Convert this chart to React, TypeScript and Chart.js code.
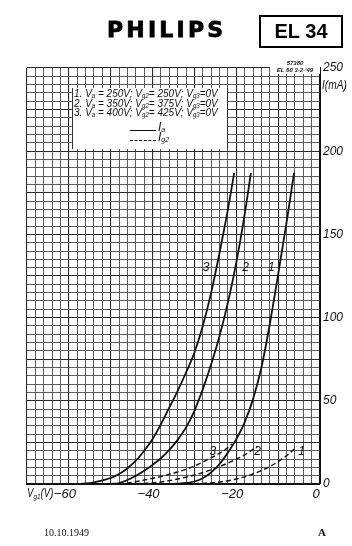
import React, { useEffect, useRef } from "react";
import { Chart, registerables } from "chart.js";

Chart.register(...registerables);

// ---- data (Vg1 in V, current in mA) ----
const ia1V = [-36, -34, -32, -30, -28, -26, -24, -22, -20, -18, -16, -14, -12, -10, -8, -6.2];
const ia1I = [0, 0.2, 0.6, 1.5, 3.5, 7, 12, 19, 27, 37, 51, 70, 96, 126, 157, 187];

const ia2V = [-50, -48, -46, -44, -42, -40, -38, -36, -34, -32, -30, -28, -26, -24, -22, -20, -18, -16.5];
const ia2I = [0, 0.6, 2.4, 5, 8, 11.5, 15.5, 20.5, 26.5, 34, 44, 57, 72, 89, 109, 133, 162, 187];

const ia3V = [-58, -56, -54, -52, -50, -48, -46, -44, -42, -40, -38, -36, -34, -32, -30, -28, -26, -24, -22, -20.5];
const ia3I = [0, 0.3, 1, 2.2, 3.6, 6, 9.5, 14, 20, 27, 36, 46, 56, 67, 79, 95, 115, 139, 165, 187];

const ig1V = [-32, -28, -24, -20, -16, -12, -8, -5.5];
const ig1I = [0, 0.4, 1.2, 3, 6, 10.5, 17, 22.5];

const ig2V = [-46, -42, -38, -34, -30, -26, -22, -18, -15];
const ig2I = [0, 0.4, 1.2, 3, 5.4, 8.5, 12.6, 17.5, 22.5];

const ig3V = [-50, -46, -42, -38, -34, -30, -26, -23, -21];
const ig3I = [0, 0.6, 2.4, 4.5, 7.2, 10.8, 15.8, 20, 24];

const xLabelValues = [-60, -40, -20, 0];
const yLabelValues = [0, 50, 100, 150, 200, 250];

const curveLabelText = ["3", "2", "1", "3", "2", "1"];
const curveLabelV = [-27.2, -17.8, -11.6, -25.6, -14.9, -4.4];
const curveLabelI = [130, 130, 130, 19.2, 19.2, 19.2];

const legendRows = [
  ["1.", "250", "250"],
  ["2.", "350", "375"],
  ["3.", "400", "425"],
];

const SANS = '"Liberation Sans", Arial, sans-serif';

function toPts(xs: number[], ys: number[]) {
  return xs.map((x, i) => ({ x, y: ys[i] }));
}

const labelPlugin = {
  id: "curveLabels",
  afterDatasetsDraw(chart: any) {
    const ctx = chart.ctx;
    const xs = chart.scales.x;
    const ys = chart.scales.y;
    ctx.save();
    ctx.font = `italic 12px ${SANS}`;
    ctx.textAlign = "center";
    ctx.textBaseline = "middle";
    ctx.fillStyle = "#111";
    curveLabelText.forEach((t, i) => {
      const px = xs.getPixelForValue(curveLabelV[i]);
      const py = ys.getPixelForValue(curveLabelI[i]);
      ctx.fillText(t, px, py);
    });
    ctx.restore();
  },
};

export default function App() {
  const ref = useRef<HTMLCanvasElement>(null);

  useEffect(() => {
    if (!ref.current) return;
    const solid = (pts: any) => ({
      data: pts,
      showLine: true,
      borderColor: "#111",
      borderWidth: 1.8,
      pointRadius: 0,
      cubicInterpolationMode: "monotone",
      fill: false,
    });
    const dashed = (pts: any) => ({
      data: pts,
      showLine: true,
      borderColor: "#111",
      borderWidth: 1.4,
      borderDash: [5, 3],
      pointRadius: 0,
      cubicInterpolationMode: "monotone",
      fill: false,
    });
    const chart = new Chart(ref.current, {
      type: "scatter",
      data: {
        datasets: [
          solid(toPts(ia1V, ia1I)),
          solid(toPts(ia2V, ia2I)),
          solid(toPts(ia3V, ia3I)),
          dashed(toPts(ig1V, ig1I)),
          dashed(toPts(ig2V, ig2I)),
          dashed(toPts(ig3V, ig3I)),
        ] as any,
      },
      options: {
        animation: false,
        responsive: false,
        layout: { padding: { left: 27, top: 68, right: 0, bottom: 32 } },
        plugins: { legend: { display: false }, tooltip: { enabled: false } },
        scales: {
          x: {
            type: "linear",
            min: -70,
            max: 0,
            afterFit: (s: any) => {
              s.height = 30;
            },
            border: { display: true, color: "#111", width: 2 },
            grid: {
              drawTicks: false,
              color: (c: any) => (c.tick && c.tick.value % 10 === 0 ? "#2a2a2a" : "#4a4a4a"),
              lineWidth: (c: any) => (c.tick && c.tick.value % 10 === 0 ? 1.1 : 0.9),
            },
            ticks: {
              stepSize: 2,
              autoSkip: false,
              maxRotation: 0,
              padding: 3,
              labelOffset: -4,
              color: "#111",
              font: { family: SANS, size: 13, style: "italic" },
              callback: (v: any) =>
                xLabelValues.includes(Number(v)) ? (Number(v) < 0 ? "\u2212" + Math.abs(Number(v)) : String(v)) : "",
            },
          },
          y: {
            type: "linear",
            position: "right",
            min: 0,
            max: 250,
            afterFit: (s: any) => {
              s.width = 32;
            },
            border: { display: true, color: "#111", width: 2 },
            grid: {
              drawTicks: false,
              color: (c: any) => (c.tick && c.tick.value % 25 === 0 ? "#2a2a2a" : "#4a4a4a"),
              lineWidth: (c: any) => (c.tick && c.tick.value % 25 === 0 ? 1.1 : 0.9),
            },
            ticks: {
              stepSize: 5,
              autoSkip: false,
              padding: 3,
              color: "#111",
              font: { family: SANS, size: 12, style: "italic" },
              callback: (v: any) => (yLabelValues.includes(Number(v)) ? String(v) : ""),
            },
          },
        },
      },
      plugins: [labelPlugin],
    });
    return () => chart.destroy();
  }, []);

  const it: React.CSSProperties = { fontFamily: SANS, fontStyle: "italic", color: "#111" };
  const sub: React.CSSProperties = { fontSize: 7, verticalAlign: "-1px" };

  return (
    <div style={{ position: "fixed", left: 0, top: 0, width: 352, height: 546, background: "#fff", overflow: "hidden" }}>
      <canvas ref={ref} width={352} height={546} style={{ position: "absolute", left: 0, top: 0, width: 352, height: 546 }} />
      <div
        style={{
          position: "absolute",
          left: 107,
          top: 18,
          fontFamily: '"DejaVu Sans", sans-serif',
          fontWeight: 900,
          fontSize: 22,
          letterSpacing: 3.2,
          lineHeight: "24px",
          color: "#000",
          WebkitTextStroke: "0.8px #000",
        }}
      >
        PHILIPS
      </div>
      <div
        style={{
          position: "absolute",
          left: 259,
          top: 15,
          width: 80,
          height: 29,
          border: "2px solid #000",
          fontFamily: SANS,
          fontWeight: 700,
          fontSize: 20,
          lineHeight: "29px",
          textAlign: "center",
          color: "#000",
        }}
      >
        EL 34
      </div>
      <div
        style={{
          position: "absolute",
          left: 270,
          top: 60,
          width: 50,
          textAlign: "center",
          background: "#fff",
          ...it,
          fontWeight: 700,
          fontSize: 6,
          lineHeight: "7px",
        }}
      >
        <div>57380</div>
        <div>EL 60 3-2-'49</div>
      </div>
      <div
        style={{
          position: "absolute",
          left: 322,
          top: 78,
          fontSize: 12,
          lineHeight: "14px",
          transform: "scaleX(0.85)",
          transformOrigin: "left top",
          ...it,
        }}
      >
        I(mA)
      </div>
      <div
        style={{
          position: "absolute",
          left: 72,
          top: 88,
          width: 156,
          height: 61,
          background: "#fff",
          borderLeft: "1px solid #333",
          borderRight: "1px solid #333",
          boxSizing: "border-box",
          ...it,
          fontSize: 11.5,
          lineHeight: "9.7px",
          paddingLeft: 1,
          paddingTop: 1,
        }}
      >
        {legendRows.map((r, i) => (
          <div
            key={i}
            style={{ whiteSpace: "nowrap", height: 9.7, transform: "scaleX(0.87)", transformOrigin: "left center" }}
          >
            {r[0]} V<sub style={sub}>a</sub> = {r[1]}V; V<sub style={sub}>g2</sub>= {r[2]}V; V
            <sub style={sub}>g3</sub>=0V
          </div>
        ))}
        <div style={{ position: "absolute", left: 57, top: 42, width: 26, borderTop: "1.5px solid #111" }} />
        <div style={{ position: "absolute", left: 85, top: 34, fontSize: 12, lineHeight: "10px" }}>
          I<sub style={sub}>a</sub>
        </div>
        <div style={{ position: "absolute", left: 57, top: 52, width: 26, borderTop: "1.5px dashed #111" }} />
        <div style={{ position: "absolute", left: 85, top: 44, fontSize: 12, lineHeight: "10px" }}>
          I<sub style={sub}>g2</sub>
        </div>
      </div>
      <div
        style={{
          position: "absolute",
          left: 27,
          top: 486,
          fontSize: 12,
          lineHeight: "14px",
          transform: "scaleX(0.8)",
          transformOrigin: "left top",
          ...it,
        }}
      >
        V<sub style={{ fontSize: 8, verticalAlign: "-2px" }}>g1</sub>(V)
      </div>
      <div
        style={{
          position: "absolute",
          left: 44,
          top: 527,
          fontFamily: '"Liberation Serif", serif',
          fontSize: 10,
          lineHeight: "12px",
          color: "#111",
        }}
      >
        10.10.1949
      </div>
      <div
        style={{
          position: "absolute",
          left: 318,
          top: 526,
          fontFamily: '"Liberation Serif", serif',
          fontWeight: 700,
          fontSize: 11,
          lineHeight: "12px",
          color: "#111",
        }}
      >
        A
      </div>
    </div>
  );
}
